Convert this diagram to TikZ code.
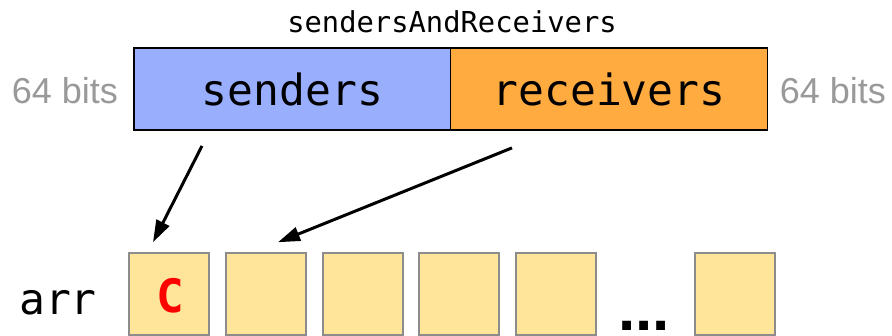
\documentclass[tikz,border=0pt]{standalone}
\usepackage{fontspec}
\setmainfont{Liberation Sans}
\newfontfamily\monof{DejaVu Sans Mono}
\usetikzlibrary{arrows.meta,calc}
\definecolor{sendblue}{HTML}{99AEFC}
\definecolor{recvorange}{HTML}{FFAB40}
\definecolor{cellyellow}{HTML}{FFE599}
\definecolor{cellborder}{HTML}{8C8C8C}
\definecolor{bitsgray}{HTML}{999999}
\begin{document}
\begin{tikzpicture}[x=1pt,y=-1pt,
 field/.style={draw=black,line width=1.8pt,minimum width=317pt,minimum height=82pt,inner sep=0pt,font=\monof\fontsize{43}{43}\selectfont},
 cell/.style={draw=cellborder,fill=cellyellow,line width=1.5pt,minimum width=80pt,minimum height=82pt,inner sep=0pt},
 bits/.style={text=bitsgray,inner sep=0pt,font=\fontsize{36}{36}\selectfont},
 ptr/.style={line width=3pt,-{Triangle[length=22pt,width=14pt]}}]
\useasboundingbox (0,0) rectangle (892,336);
\node[font=\monof\fontsize{28.8}{28.8}\selectfont,inner sep=0pt] (title) at (452,22) {sendersAndReceivers};
\node[field,fill=sendblue] (snd) at (292.5,89) {senders};
\node[field,fill=recvorange] (rcv) at (609,89) {receivers};
\node[bits] (lb) at (65,91) {64 bits};
\node[bits] (rb) at (833,91) {64 bits};
\node[inner sep=0pt,font=\monof\fontsize{43}{43}\selectfont] (arr) at (58,303) {arr};
\node[cell] (c1) at (169,294) {};
\node[cell] (c2) at (266,294) {};
\node[cell] (c3) at (363,294) {};
\node[cell] (c4) at (459,294) {};
\node[cell] (c5) at (556,294) {};
\node[cell] (c6) at (735,294) {};
\node[inner sep=0pt,text=red,font=\monof\bfseries\fontsize{46}{46}\selectfont] (cc) at (170,296) {C};
\node[inner sep=0pt,anchor=base,font=\bfseries\fontsize{62}{62}\selectfont] (dots) at (644,331) {...};
\draw[ptr] ($(snd.south)+(-90.5,15)$) -- ($(c1.north)+(-16,-10)$);
\draw[ptr] ($(rcv.south)+(-97,17)$) -- ($(c2.north)+(12,-10)$);
\end{tikzpicture}
\end{document}
